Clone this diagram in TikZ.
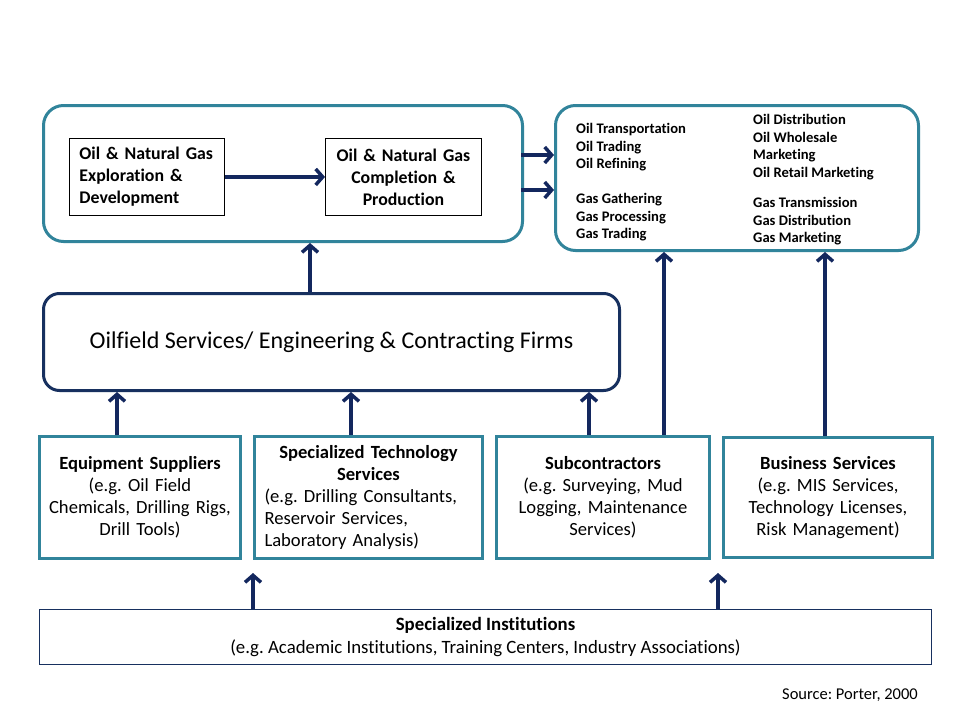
\documentclass[tikz,border=0pt]{standalone}
\usepackage{fontspec}
\setmainfont{Carlito}[Ligatures={NoCommon}]
\usetikzlibrary{arrows.meta,positioning}
\frenchspacing
\definecolor{teal1}{HTML}{31849B}
\definecolor{navy1}{HTML}{13275E}
\definecolor{navy2}{HTML}{17305F}
\tikzset{
  tealround/.style={draw=teal1,line width=3pt,rounded corners=20pt,fill=white,inner sep=0pt},
  navyround/.style={draw=navy2,line width=3pt,rounded corners=16pt,fill=white,inner sep=0pt},
  innerbox/.style={draw=black,line width=0.9pt,inner sep=0pt,font=\fontsize{17.8}{22}\selectfont\bfseries},
  tealbox/.style={draw=teal1,line width=3pt,inner sep=0pt,font=\fontsize{18.6}{22}\selectfont},
  instbox/.style={draw=navy2,line width=1pt,inner sep=0pt,font=\fontsize{18.8}{23}\selectfont},
  smalltxt/.style={inner sep=0pt,anchor=north west,align=left,font=\fontsize{14.6}{17.6}\selectfont\bfseries},
  arr/.style={draw=navy1,line width=3.5pt,-{Straight Barb[length=7pt,width=16pt,line width=3.5pt]}},
}
\begin{document}
\begin{tikzpicture}[x=1pt,y=-1pt]
\useasboundingbox (0,0) rectangle (960,720);
\fill[white] (0,0) rectangle (960,720);
% top left container
\node[tealround,minimum width=479pt,minimum height=136pt,anchor=north west] (tl) at (42,104) {};
\node[innerbox,minimum width=155pt,minimum height=77pt,anchor=north west,text width=135pt,align=left,inner xsep=10pt] (expl) at (69,138) {Oil \& Natural Gas\\Exploration \&\\Development};
\node[innerbox,minimum width=156pt,minimum height=77pt,anchor=north west,text width=156pt,align=center] (comp) at (325,138) {Oil \& Natural Gas\\Completion \&\\Production};
\draw[arr] (expl.east) -- (comp.west);
% top right container
\node[tealround,minimum width=363pt,minimum height=145pt,anchor=north west] (tr) at (554,104) {};
\node[smalltxt] (oilA) at (576,123) {Oil Transportation\\Oil Trading\\Oil Refining};
\node[smalltxt] (gasA) at (576,193) {Gas Gathering\\Gas Processing\\Gas Trading};
\node[smalltxt] (oilB) at (753,114) {Oil Distribution\\Oil Wholesale\\Marketing\\Oil Retail Marketing};
\node[smalltxt] (gasB) at (753,197) {Gas Transmission\\Gas Distribution\\Gas Marketing};
\coordinate (tlr1) at (521,155);
\coordinate (tlr2) at (521,190);
\draw[arr] (tlr1) -- (tlr1 -| tr.west);
\draw[arr] (tlr2) -- (tlr2 -| tr.west);
% oilfield services
\node[navyround,minimum width=576pt,minimum height=97pt,anchor=north west,font=\fontsize{24}{28}\selectfont] (ofs) at (42,292) {Oilfield Services/ Engineering \& Contracting Firms};
\draw[arr] (ofs.north -| 310,0) -- (tl.south -| 310,0);
% bottom boxes
\node[tealbox,minimum width=201pt,minimum height=122pt,anchor=north west,text width=201pt,align=center] (equip) at (38,435) {\textbf{Equipment Suppliers}\\(e.g. Oil Field\\Chemicals, Drilling Rigs,\\Drill Tools)};
\node[tealbox,minimum width=228pt,minimum height=122pt,anchor=north west,text width=208pt,inner xsep=10pt,align=left] (spec) at (253,435) {\makebox[\linewidth][c]{\bfseries Specialized Technology}\\\makebox[\linewidth][c]{\bfseries Services}\\(e.g. Drilling Consultants,\\Reservoir Services,\\Laboratory Analysis)};
\node[tealbox,minimum width=213pt,minimum height=122pt,anchor=north west,text width=213pt,align=center] (sub) at (495,435) {\textbf{Subcontractors}\\(e.g. Surveying, Mud\\Logging, Maintenance\\Services)};
\node[tealbox,minimum width=209pt,minimum height=120pt,anchor=north west,text width=209pt,align=center] (bus) at (722,436) {\textbf{Business Services}\\(e.g. MIS Services,\\Technology Licenses,\\Risk Management)};
\draw[arr] (equip.north -| 117,0) -- (ofs.south -| 117,0);
\draw[arr] (spec.north -| 351,0) -- (ofs.south -| 351,0);
\draw[arr] (sub.north -| 589,0) -- (ofs.south -| 589,0);
\draw[arr] (sub.north -| 664,0) -- (tr.south -| 664,0);
\draw[arr] (bus.north -| 825,0) -- (tr.south -| 825,0);
% institutions
\node[instbox,minimum width=892pt,minimum height=55pt,anchor=north west,align=center] (inst) at (39,609) {\textbf{Specialized Institutions}\\(e.g. Academic Institutions, Training Centers, Industry Associations)};
\coordinate (i1) at (253,573);
\coordinate (i2) at (718,573);
\draw[arr] (inst.north -| i1) -- (i1);
\draw[arr] (inst.north -| i2) -- (i2);
\node[inner sep=0pt,anchor=east,font=\fontsize{16.5}{18}\selectfont] (src) at (918,695) {Source: Porter, 2000};
\end{tikzpicture}
\end{document}
